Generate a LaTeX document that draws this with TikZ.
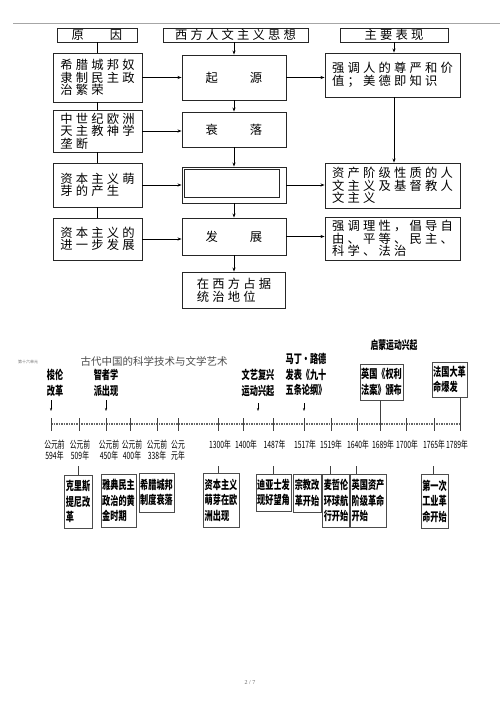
\documentclass[tikz,border=0pt]{standalone}
\usepackage{fontspec}
\usetikzlibrary{arrows.meta}
\setmainfont{Liberation Serif}
\newfontfamily\cjk[LetterSpace=26]{Noto Sans CJK SC}
\newfontfamily\cjkp{Noto Sans CJK SC}
\newfontfamily\cjkn[FakeStretch=0.68]{Noto Sans CJK SC}
\begin{document}
\begin{tikzpicture}[x=1pt,y=-1pt,
  bx/.style={draw=black!85, line width=0.9pt, inner sep=2pt, align=left,
    font=\cjk\fontsize{12.3}{12.6}\selectfont},
  arr/.style={-{Stealth[length=4pt,width=3pt]}, line width=0.7pt},
  ln/.style={line width=0.7pt},
  tl/.style={font=\cjkn\bfseries\fontsize{12}{15.5}\selectfont, align=left, inner sep=1pt},
  tb/.style={tl, draw=black!70, line width=0.9pt},
  yr/.style={font=\cjkn\fontsize{10}{11}\selectfont, align=center, inner sep=0pt},
  tarr/.style={-{Stealth[length=3pt,width=2.2pt]}, line width=0.6pt},
  tln/.style={line width=0.6pt, black!75}]
\useasboundingbox (0,0) rectangle (500,708);
\fill[white] (0,0) rectangle (500,708);
% top rule
\draw[black!35, line width=0.8pt] (13,23) -- (500,23);

% headers
\node[bx, minimum width=80pt, minimum height=14pt, inner sep=0pt] (h1) at (97,35) {原\hspace{26pt}因};
\node[bx, minimum width=145pt, minimum height=14pt, inner sep=0pt] (h2) at (235.5,35) {西方人文主义思想};
\node[bx, minimum width=108pt, minimum height=14pt, inner sep=0pt] (h3) at (394,35) {主要表现};

% left column
\node[bx, minimum width=89pt, minimum height=49pt] (l1) at (97.5,77.5) {希腊城邦奴\\隶制民主政\\治繁荣};
\node[bx, minimum width=89pt, minimum height=42pt] (l2) at (97.5,131) {中世纪欧洲\\天主教神学\\垄断};
\node[bx, minimum width=89pt, minimum height=44pt] (l3) at (97.5,185) {资本主义萌\\芽的产生};
\node[bx, minimum width=89pt, minimum height=42pt] (l4) at (97.5,239) {资本主义的\\进一步发展};

% centre column
\node[bx, minimum width=104pt, minimum height=45pt] (c1) at (234,77.5) {起\hspace{32pt}源};
\node[bx, minimum width=104pt, minimum height=35pt] (c2) at (234,129.5) {衰\hspace{32pt}落};
\node[bx, minimum width=104pt, minimum height=36pt] (c3) at (234,185) {};
\draw[black!85, line width=0.8pt] ([shift={(3pt,-3pt)}]c3.north west) rectangle ([shift={(-7pt,6pt)}]c3.south east);
\node[bx, minimum width=104pt, minimum height=37pt] (c4) at (234,236.5) {发\hspace{32pt}展};
\node[bx, minimum width=103pt, minimum height=36pt] (c5) at (234,290) {在西方占据\\统治地位};

% right column
\node[bx, minimum width=135pt, minimum height=44pt] (r1) at (392.5,75) {强调人的尊严和价\\值；美德即知识};
\node[bx, minimum width=135pt, minimum height=45pt] (r3) at (392.5,185.5) {资产阶级性质的人\\文主义及基督教人\\文主义};
\node[bx, minimum width=135pt, minimum height=43pt] (r4) at (392.5,238.5) {强调理性，倡导自\\由、平等、民主、\\科学、法治};

% connectors top
\draw[ln] (h1.south) -- (h1.south |- l1.north);
\draw[ln] (l1.south) -- (l2.north);
\draw[ln] (l2.south) -- (l3.north);
\draw[ln] (l3.south) -- (l4.north);
\draw[arr] (h2.south -| c1.north) -- (c1.north);
\draw[arr] (h3.south) -- (h3.south |- r1.north);
\draw[arr] (c1.south) -- (c2.north);
\draw[arr] (c2.south) -- (c3.north);
\draw[arr] (c3.south) -- (c4.north);
\draw[arr] (c4.south) -- (c5.north);
\draw[arr] (r1.south -| h3.south) -- (h3.south |- r3.north);
\draw[arr] (l1.east) -- (l1.east -| c1.west);
\draw[arr] (l2.east) -- (l2.east -| c2.west);
\draw[arr] (l3.east) -- (l3.east -| c3.west);
\draw[arr] (l4.east) -- (l4.east -| c4.west);
\draw[arr] (c1.east) -- (c1.east -| r1.west);
\draw[arr] (c3.east) -- (c3.east -| r3.west);
\draw[arr] (c4.east) -- (c4.east -| r4.west);

% ---------------- timeline ----------------
\node[font=\cjkp\fontsize{4}{4}\selectfont, text=black!55, inner sep=0] (unit) at (28,362) {第十六单元};
\node[font=\cjkp\fontsize{10.5}{11}\selectfont, text=black!70, inner sep=0] (title) at (154,361) {古代中国的科学技术与文学艺术};

\foreach \i/\x in {1/51,2/79,3/106,4/130,5/157,6/178,7/218,8/243,9/273,10/304,11/331,12/357,13/380,14/406,15/434,16/460}
  \coordinate (t\i) at (\x,424);
\draw[black!60, line width=1.3pt, dash pattern=on 1.6pt off 0.9pt] (t1) -- (t16);
\foreach \i in {1,...,16}
  \draw[line width=0.8pt, black!75] (t\i) ++(0,-6) -- ++(0,13);

% year labels
\node[yr] (yl1) at (54.5,450.5) {公元前\\594年};
\node[yr] (yl2) at (80,450.5) {公元前\\509年};
\node[yr] (yl3) at (109,450.5) {公元前\\450年};
\node[yr] (yl4) at (132,450.5) {公元前\\400年};
\node[yr] (yl5) at (157,450.5) {公元前\\338年};
\node[yr] (yl6) at (178,450.5) {公元\\元年};
\node[yr] (yl7) at (220,445) {1300年};
\node[yr] (yl8) at (246,445) {1400年};
\node[yr] (yl9) at (274.5,445) {1487年};
\node[yr] (yl10) at (305,445) {1517年};
\node[yr] (yl11) at (331,445) {1519年};
\node[yr] (yl12) at (358,445) {1640年};
\node[yr] (yl13) at (383,445) {1689年};
\node[yr] (yl14) at (407,445) {1700年};
\node[yr] (yl15) at (434,445) {1765年};
\node[yr] (yl16) at (457,445) {1789年};

% boxes below
\node[tb, minimum width=28pt, minimum height=53pt] (b1) at (78,501.5) {克里斯\\提尼改\\革};
\node[tb, minimum width=35pt, minimum height=53pt] (b2) at (118.5,500.5) {雅典民主\\政治的黄\\金时期};
\node[tb, minimum width=35pt, minimum height=39pt] (b3) at (156.5,492.5) {希腊城邦\\制度衰落};
\node[tb, minimum width=36pt, minimum height=54pt] (b4) at (221,500) {资本主义\\萌芽在欧\\洲出现};
\node[tb, minimum width=35pt, minimum height=37pt] (b5) at (273.5,492.5) {迪亚士发\\现好望角};
\node[tb, minimum width=28pt, minimum height=38pt] (b6) at (307,493) {宗教改\\革开始};
\node[tb, minimum width=27pt, minimum height=53pt] (b7) at (336,500.5) {麦哲伦\\环球航\\行开始};
\node[tb, minimum width=36pt, minimum height=53pt] (b8) at (368,500.5) {英国资产\\阶级革命\\开始};
\node[tb, minimum width=27pt, minimum height=54pt] (b9) at (434.5,501) {第一次\\工业革\\命开始};

\coordinate (s1) at (78,466);
\coordinate (s4) at (218,466);
\coordinate (s5) at (273,466);
\coordinate (s7) at (330,466);
\coordinate (s8) at (356,466);
\coordinate (s9) at (433,466);
\draw[tln] (s1) -- (s1 |- b1.north);
\draw[tln] (s4) -- (s4 |- b4.north);
\draw[tln] (s5) -- (s5 |- b5.north);
\draw[tln] (s7) -- (s7 |- b7.north);
\draw[tln] (s8) -- (s8 |- b8.north);
\draw[tln] (s9) -- (s9 |- b9.north);

% labels above
\node[tl, align=center] (a1) at (55,383) {梭伦\\改革};
\node[tl, align=center] (a2) at (106,383) {智者学\\派出现};
\node[tl, align=center] (a3) at (258,383) {文艺复兴\\运动兴起};
\node[tl, align=left] (a4) at (306,374.5) {马丁·路德\\发表《九十\\五条论纲》};
\node[tl, font=\cjkn\bfseries\fontsize{11.5}{12}\selectfont] (a5) at (394,345) {启蒙运动兴起};
\node[tb, minimum width=43pt, minimum height=36pt] (a6) at (381.5,382) {英国《权利\\法案》颁布};
\node[tb, minimum width=35pt, minimum height=35pt] (a7) at (449.5,379.5) {法国大革\\命爆发};

\coordinate (p1) at (51,411);
\coordinate (p2) at (106,411);
\coordinate (p3) at (258,411);
\coordinate (p4) at (304,411);
\draw[tarr] (p1 |- 0,400) -- (p1);
\draw[tarr] (p2 |- 0,400) -- (p2);
\draw[tarr] (p3 |- 0,403) -- (p3);
\draw[tarr] (p4 |- 0,403) -- (p4);
\draw[tln] (a6.south -| t13) -- (t13);
\draw[tln] (a7.south -| t16) -- (t16);

% page number
\node[font=\fontsize{6}{6}\selectfont, text=black!60, inner sep=0] (pg) at (250,683) {2 / 7};
\end{tikzpicture}
\end{document}
